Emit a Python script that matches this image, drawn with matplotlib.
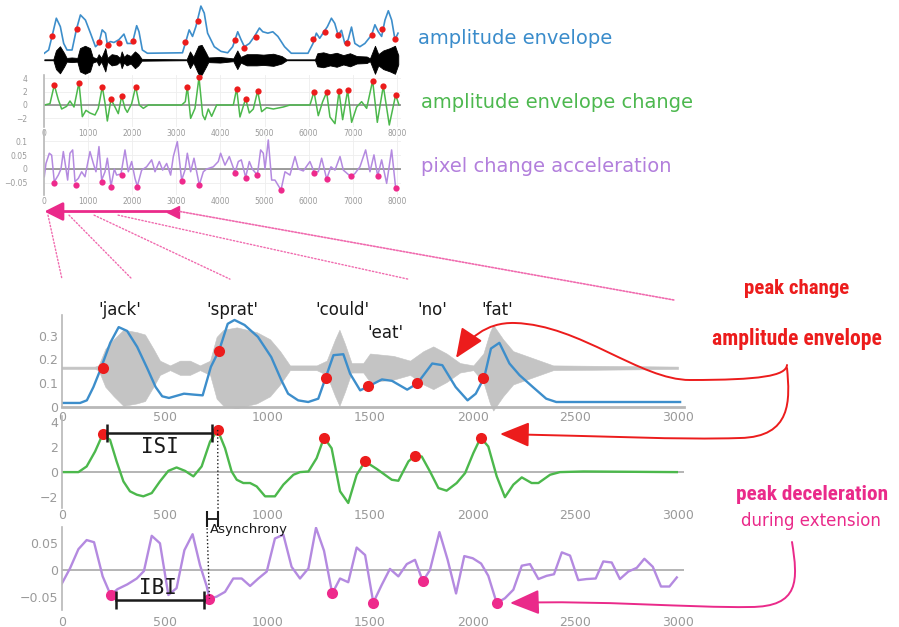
import matplotlib
matplotlib.use("Agg")
import matplotlib.pyplot as plt
from matplotlib import transforms
from matplotlib.path import Path
from matplotlib.patches import FancyArrowPatch, ConnectionPatch

# ---------- full recording, 0-8000 ms (small panels on top) ----------
# amplitude envelope (arbitrary units)
env_top_t = [0, 99, 175, 273, 364, 440, 516, 630, 729, 820,
             934, 1048, 1162, 1238, 1314, 1390, 1428, 1504, 1580, 1694,
             1808, 1884, 1998, 2097, 2150, 2226, 2340, 3137, 3213, 3289,
             3365, 3441, 3555, 3631, 3707, 3859, 4011, 4163, 4277, 4391,
             4467, 4543, 4657, 4771, 4884, 4960, 5075, 5188, 5303, 5454,
             5606, 5986, 6100, 6176, 6252, 6328, 6427, 6518, 6594, 6670,
             6746, 6822, 6898, 6974, 7050, 7164, 7278, 7430, 7506, 7582,
             7658, 7734, 7810, 7886, 7962, 8030]
env_top_v = [0, .07, .36, .75, .57, .21, .07, .07, .51, .82,
             .71, .43, .14, .21, .50, .43, .21, .25, .23, .29,
             .41, .21, .21, .59, .46, .07, 0, .01, .25, .50,
             .36, .57, 1.01, .86, .43, .14, .04, .01, .14, .46,
             .29, .14, .21, .36, .54, .46, .43, .46, .36, .14,
             0, 0, .21, .43, .32, .43, .57, .75, .64, .39,
             .49, .21, .29, .56, .21, .14, .21, .39, .61, .46,
             .36, .71, .91, .71, .29, .43]
env_top_dot_t = [167, 734, 1249, 1453, 1703, 2021, 3201, 3481, 4329, 4533,
                 4805, 6092, 6379, 6674, 6863, 7431, 7673, 7961]
env_top_dot_v = [.36, .52, .25, .18, .21, .26, .24, .68, .28, .12,
                 .35, .31, .46, .39, .21, .39, .52, .30]

# speech waveform drawn as its extent around a centre line
wave_top_center = -0.14
wave_top_t = [0, 205, 265, 356, 447, 507, 621, 750, 810, 924,
              1037, 1098, 1189, 1234, 1294, 1385, 1431, 1529, 1643, 1718,
              1756, 1809, 1869, 1960, 2058, 2134, 2210, 3232, 3307, 3383,
              3497, 3572, 3670, 3723, 3988, 4291, 4382, 4457, 4594, 4821,
              4972, 5199, 5388, 5502, 6145, 6198, 6334, 6485, 6636, 6788,
              6939, 7091, 7318, 7393, 7507, 7583, 7696, 7848, 7961, 8036]
wave_top_amp = [.01, .01, .20, .29, .15, .04, .05, .04, .25, .30,
                .25, .06, .03, .12, .04, .25, .04, .12, .10, .04,
                .18, .06, .12, .08, .18, .12, .02, .01, .18, .06,
                .30, .32, .15, .05, .06, .03, .20, .06, .12, .12,
                .11, .13, .08, .01, .01, .14, .16, .12, .15, .10,
                .14, .08, .07, .03, .30, .12, .20, .25, .30, .10]

# amplitude envelope change
chg_top_t = [0, 129, 227, 318, 394, 507, 583, 674, 787, 863,
             946, 1037, 1151, 1226, 1317, 1378, 1431, 1514, 1605, 1680,
             1756, 1832, 1885, 1983, 2074, 2157, 2248, 2361, 3118, 3201,
             3247, 3322, 3421, 3512, 3595, 3648, 3723, 3799, 3913, 4291,
             4367, 4442, 4571, 4654, 4745, 4843, 4934, 5048, 5199, 5426,
             5577, 6031, 6122, 6220, 6319, 6410, 6485, 6599, 6690, 6773,
             6886, 6977, 7091, 7204, 7318, 7454, 7560, 7696, 7832, 7976,
             8052]
chg_top_v = [0, 0.2, 3.0, 0.8, -0.6, -0.2, 0.6, -0.3, 3.35, -1.75,
             -0.8, -1.2, -1.5, -0.5, 2.75, 0.3, -2.4, 0.85, -0.3, -1.3,
             1.35, -0.5, -1.1, 0.2, 2.75, 0.0, -0.5, 0, 0, 0.5,
             2.75, -2.0, -0.5, 4.15, -1.5, -2.2, -0.6, -1.7, 0, 0,
             2.45, -1.8, 0.95, -1.2, -0.6, 2.1, -1.0, -0.4, -0.6, -0.3,
             0, 0, 2.0, -1.6, 0.5, 1.9, -1.8, -2.8, 2.05, -2.2,
             2.2, -2.6, -0.3, 0.5, -0.5, 3.65, -2.6, 2.85, -3.0, 1.5,
             0]
chg_top_dot_t = [227, 787, 1317, 1514, 1756, 2074, 3247, 3512, 4367, 4571,
                 4843, 6122, 6410, 6690, 6886, 7454, 7696, 7976]
chg_top_dot_v = [3.0, 3.35, 2.75, 0.85, 1.35, 2.75, 2.75, 4.15, 2.45, 0.95,
                 2.1, 2.0, 1.9, 2.05, 2.2, 3.65, 2.85, 1.5]

# pixel change acceleration
acc_top_t = [0, 38, 114, 167, 227, 318, 379, 432, 485, 530,
             583, 644, 697, 772, 848, 924, 1037, 1113, 1173, 1241,
             1302, 1378, 1431, 1514, 1590, 1642, 1741, 1832, 1907, 1983,
             2059, 2112, 2210, 2323, 2437, 2513, 2611, 2687, 2778, 2868,
             2929, 3020, 3118, 3194, 3247, 3322, 3398, 3519, 3610, 3686,
             3837, 3950, 4003, 4102, 4200, 4329, 4405, 4472, 4571, 4654,
             4722, 4836, 4911, 4972, 5010, 5085, 5161, 5237, 5373, 5464,
             5577, 5691, 5767, 5880, 6031, 6122, 6220, 6296, 6410, 6508,
             6599, 6713, 6788, 6962, 7053, 7166, 7295, 7393, 7484, 7568,
             7658, 7772, 7885, 7976]
acc_top_v = [-.028, .02, .057, .05, -.046, -.022, 0.0, .063, .008, -.04,
             .057, .069, -.046, -.034, -.01, -.028, .063, .02, -.01, .081,
             -.04, -.01, .039, -.062, 0.0, -.022, -.018, .069, -.01, .027,
             -.034, -.062, -.004, .008, .033, -.01, .027, -.004, .02, -.022,
             .045, .099, -.04, -.004, .057, -.01, .039, -.058, -.01, 0.0,
             .008, .027, .057, .014, .045, -.013, .027, .033, -.03, .027,
             0.0, -.022, .069, .057, 0.0, .105, -.04, -.04, -.076, -.01,
             -.022, .045, 0.0, -.007, .027, -.01, -.01, .039, -.036, .008,
             -.004, .045, -.004, -.028, -.016, .008, .069, -.01, .051, -.025,
             .033, -.052, .069, -.068]
acc_top_dot_t = [227, 719, 1317, 1514, 1756, 2112, 3118, 3519, 4329, 4571,
                 4836, 5373, 6122, 6410, 6962, 7568, 7976]
acc_top_dot_v = [-.05, -.058, -.046, -.064, -.022, -.064, -.042, -.058, -.013, -.033,
                 -.023, -.076, -.013, -.036, -.026, -.025, -.068]

# ---------- zoomed excerpt, 0-3000 ms ----------
env_t = [0, 88, 121, 153, 186, 235, 276, 317, 366, 415,
         456, 488, 521, 594, 643, 685, 725, 766, 807, 840,
         889, 954, 1019, 1068, 1101, 1150, 1199, 1248, 1281, 1322,
         1370, 1403, 1452, 1490, 1558, 1607, 1681, 1730, 1803, 1852,
         1917, 1975, 2015, 2056, 2089, 2130, 2179, 2228, 2293, 2358,
         2407, 2554, 3010]
env_v = [.017, .017, .028, .084, .155, .27, .336, .32, .253, .163,
         .084, .045, .038, .056, .052, .049, .169, .24, .35, .366,
         .345, .295, .21, .113, .056, .028, .021, .035, .116, .218,
         .222, .14, .07, .086, .116, .11, .073, .099, .183, .176,
         .084, .028, .056, .124, .246, .27, .183, .134, .084, .035,
         .021, .021, .021]
env_dot_t = [201, 763, 1285, 1488, 1730, 2050]
env_dot_v = [.162, .235, .12, .087, .099, .124]

wave_center = 0.165
wave_t = [0, 160, 178, 211, 252, 299, 364, 404, 445, 477,
          526, 575, 623, 672, 721, 753, 786, 851, 948, 1013,
          1062, 1110, 1240, 1289, 1330, 1351, 1378, 1410, 1467, 1500,
          1614, 1695, 1760, 1808, 1873, 1938, 2003, 2052, 2084, 2100,
          2148, 2197, 2262, 2327, 2392, 3000]
wave_amp = [.005, .005, .01, .08, .12, .16, .15, .14, .08, .03,
            .01, .03, .03, .01, .03, .13, .16, .17, .15, .12,
            .07, .01, .01, .03, .12, .16, .10, .02, .02, .06,
            .05, .03, .07, .09, .06, .02, .01, .06, .15, .18,
            .12, .07, .05, .03, .01, .005]

words = ["'jack'", "'sprat'", "'could'", "'eat'", "'no'", "'fat'"]
word_t = [282, 828, 1364, 1573, 1802, 2118]
word_y = [0.408, 0.408, 0.408, 0.311, 0.408, 0.408]

chg_t = [0, 80, 120, 161, 198, 234, 266, 299, 331, 364,
         396, 437, 477, 518, 558, 599, 640, 680, 721, 758,
         794, 826, 851, 883, 916, 948, 989, 1037, 1078, 1127,
         1159, 1200, 1240, 1276, 1313, 1354, 1394, 1435, 1476, 1533,
         1606, 1638, 1687, 1719, 1752, 1792, 1833, 1873, 1922, 1963,
         2003, 2039, 2076, 2117, 2157, 2198, 2239, 2287, 2320, 2377,
         2425, 2539, 2994]
chg_v = [0, 0, .45, 1.64, 3.0, 2.57, .85, -.74, -1.53, -1.8,
         -1.93, -1.67, -.74, .1, .37, .1, -.34, .45, 2.43, 3.36,
         1.9, .05, -.61, -.87, -.87, -1.14, -1.93, -1.93, -1.0, -.21,
         0, .05, 1.11, 2.75, 1.9, -1.53, -2.46, -.21, .85, .25,
         -.61, -.69, .85, 1.32, 1.24, .05, -1.27, -1.48, -.87, -.08,
         1.51, 2.75, 2.04, -.34, -2.0, -1.0, -.42, -.87, -.87, -.21,
         0, .05, 0]
chg_dot_t = [198, 758, 1276, 1476, 1719, 2039]
chg_dot_v = [3.0, 3.36, 2.75, 0.85, 1.32, 2.75]

acc_t = [0, 39, 80, 120, 156, 198, 237, 270, 318, 364,
         399, 437, 477, 502, 518, 558, 596, 636, 672, 705,
         718, 753, 794, 834, 875, 916, 956, 997, 1037, 1078,
         1118, 1159, 1200, 1237, 1276, 1316, 1354, 1394, 1435, 1476,
         1516, 1557, 1597, 1638, 1679, 1719, 1757, 1792, 1838, 1878,
         1919, 1959, 2000, 2041, 2076, 2117, 2157, 2198, 2239, 2279,
         2320, 2360, 2396, 2434, 2474, 2514, 2555, 2599, 2636, 2677,
         2717, 2758, 2799, 2836, 2877, 2917, 2958, 2994]
acc_v = [-.025, .003, .039, .056, .052, -.012, -.047, -.036, -.027, -.016,
         -.002, .064, .05, -.009, -.047, -.034, .037, .067, .009, -.031,
         -.054, -.05, -.041, -.016, -.016, -.03, -.016, -.003, .059, .066,
         .006, -.016, .003, .079, .036, -.044, -.016, -.023, .042, .028,
         -.061, -.028, .002, -.012, .011, .019, -.021, 0, .071, .019,
         -.044, .026, .022, .012, -.011, -.062, -.053, -.037, .008, .011,
         -.017, -.011, -.008, .033, .027, -.019, -.017, -.016, .016, .014,
         -.017, -.003, .004, .021, .006, -.031, -.031, -.014]
acc_dot_t = [237, 718, 1316, 1516, 1757, 2117]
acc_dot_v = [-.047, -.054, -.044, -.061, -.021, -.062]

top_xticks = [0, 1000, 2000, 3000, 4000, 5000, 6000, 7000, 8000]
bot_xticks = [0, 500, 1000, 1500, 2000, 2500, 3000]

# ---------- figure ----------
W, H = 899, 627
fig = plt.figure(figsize=(W / 100, H / 100), dpi=100)
PX = transforms.Affine2D().scale(1 / W, -1 / H).translate(0, 1) + fig.transFigure

BLUE = "#3d8ecb"
GREEN = "#4cb84c"
PURPLE = "#b48ae0"
RED = "#ec1c1c"
PINK = "#ea2a8a"
TICK = "#9a9a9a"
AXIS = "#b8b8b8"


def box(x0, x1, y0, y1):
    return [x0 / W, 1 - y1 / H, (x1 - x0) / W, (y1 - y0) / H]


def style(ax, fs, xpad, ypad):
    for s in ["top", "right", "bottom"]:
        ax.spines[s].set_visible(False)
    ax.spines["left"].set_color(AXIS)
    ax.spines["left"].set_linewidth(1.2)
    ax.tick_params(length=0, labelsize=fs, labelcolor=TICK)
    ax.tick_params(axis="x", pad=xpad)
    ax.tick_params(axis="y", pad=ypad)
    ax.patch.set_alpha(0)


def labels(vals):
    return [str(v).replace("-", "\u2212") for v in vals]


# panel A: envelope + waveform (no axes)
axA = fig.add_axes(box(44.3, 401.1, 0, 78))
axA.fill_between(wave_top_t, [wave_top_center - a for a in wave_top_amp],
                 [wave_top_center + a for a in wave_top_amp], color="black", lw=0.6)
axA.plot(env_top_t, env_top_v, color=BLUE, lw=1.2)
axA.plot(env_top_dot_t, env_top_dot_v, "o", color=RED, ms=4.5, mec="none")
axA.set_xlim(0, 8100)
axA.set_ylim(-0.53, 1.14)
axA.axis("off")

# panel B: envelope change
axB = fig.add_axes(box(44.3, 401.1, 75, 127))
style(axB, 5.5, 1.8, 12)
axB.grid(color="#eeeeee", lw=0.6)
axB.axhline(0, color="#8c8c8c", lw=1.2)
axB.plot(chg_top_t, chg_top_v, color=GREEN, lw=1.1)
axB.plot(chg_top_dot_t, chg_top_dot_v, "o", color=RED, ms=4.5, mec="none")
axB.set_xlim(0, 8100)
axB.set_ylim(-3.3, 4.5)
axB.set_xticks(top_xticks, labels(top_xticks))
axB.set_yticks([-2, 0, 2, 4], labels([-2, 0, 2, 4]))

# panel C: acceleration
axC = fig.add_axes(box(44.3, 401.1, 130, 195))
style(axC, 5.5, 1.8, 12)
axC.grid(color="#eeeeee", lw=0.6)
axC.axhline(0, color="#8c8c8c", lw=1.2)
axC.plot(acc_top_t, acc_top_v, color=PURPLE, lw=1.1)
axC.plot(acc_top_dot_t, acc_top_dot_v, "o", color="#ee2a8c", ms=4.5, mec="none")
axC.set_xlim(0, 8100)
axC.set_ylim(-0.094, 0.141)
axC.set_xticks(top_xticks, labels(top_xticks))
axC.set_yticks([-0.05, 0, 0.05, 0.1], labels([-0.05, 0, 0.05, 0.1]))

fig.text(418, 38, "amplitude envelope", transform=PX, color="#3a8ccb",
         fontsize=14, va="center")
fig.text(421, 102, "amplitude envelope change", transform=PX, color="#4db84f",
         fontsize=14, va="center")
fig.text(421, 166, "pixel change acceleration", transform=PX, color="#b27fdc",
         fontsize=14, va="center")

# panel D: zoomed envelope
axD = fig.add_axes(box(62, 684.2, 315, 407))
style(axD, 9, 3, 3)
axD.spines["bottom"].set_visible(True)
axD.spines["bottom"].set_color(AXIS)
axD.spines["bottom"].set_linewidth(2)
axD.fill_between(wave_t, [wave_center - a for a in wave_amp],
                 [wave_center + a for a in wave_amp], color="#c4c4c4", lw=0.4,
                 clip_on=False)
axD.plot(env_t, env_v, color=BLUE, lw=1.7)
axD.plot(env_dot_t, env_dot_v, "o", color=RED, ms=8, mec="none")
axD.set_xlim(0, 3030)
axD.set_ylim(0, 0.387)
axD.set_xticks(bot_xticks, labels(bot_xticks))
axD.set_yticks([0, 0.1, 0.2, 0.3], labels([0, 0.1, 0.2, 0.3]))
for w, t, y in zip(words, word_t, word_y):
    axD.text(t, y, w, fontsize=12, color="#1a1a1a", ha="center", va="center",
             clip_on=False)

# panel E: zoomed envelope change
axE = fig.add_axes(box(62, 684.2, 416, 508))
style(axE, 9, 1, 3)
axE.axhline(0, color="#a8a8a8", lw=1.2)
axE.plot(chg_t, chg_v, color=GREEN, lw=1.7)
axE.plot(chg_dot_t, chg_dot_v, "o", color=RED, ms=8, mec="none")
axE.set_xlim(0, 3030)
axE.set_ylim(-2.86, 4.47)
axE.set_xticks(bot_xticks, labels(bot_xticks))
axE.set_yticks([-2, 0, 2, 4], labels([-2, 0, 2, 4]))

# ISI bracket
axE.plot([218, 729], [3.1, 3.1], color="#1a1a1a", lw=1.8, marker="|", ms=13,
         mew=1.8)
axE.text(477, 2.0, "ISI", fontsize=15, family="DejaVu Sans Mono",
         ha="center", va="center", color="#1a1a1a")
# asynchrony marker
axE.plot([758, 760], [3.36, -3.3], color="#1a1a1a", ls=":", lw=1, clip_on=False)
axE.plot([706, 760], [-3.75, -3.75], color="#1a1a1a", lw=1.3, marker="|",
         ms=12, mew=1.5, clip_on=False)

# panel F: zoomed acceleration
axF = fig.add_axes(box(62, 684.2, 527, 610))
style(axF, 9, 4, 3)
axF.axhline(0, color="#a8a8a8", lw=1.2)
axF.plot(acc_t, acc_v, color=PURPLE, lw=1.7)
axF.plot(acc_dot_t, acc_dot_v, "o", color="#ee2a8c", ms=8, mec="none")
axF.set_xlim(0, 3030)
axF.set_ylim(-0.075, 0.0805)
axF.set_xticks(bot_xticks, labels(bot_xticks))
axF.set_yticks([-0.05, 0, 0.05], labels([-0.05, 0, 0.05]))
axF.plot([706, 718], [0.085, -0.054], color="#1a1a1a", ls=":", lw=1,
         clip_on=False)
axF.text(721, 0.075, "Asynchrony", fontsize=9.5, color="#1a1a1a",
         ha="left", va="center")

# IBI bracket
axF.plot([263, 692], [-0.056, -0.056], color="#1a1a1a", lw=1.8, marker="|",
         ms=13, mew=1.8)
axF.text(468, -0.034, "IBI", fontsize=15, family="DejaVu Sans Mono",
         ha="center", va="center", color="#1a1a1a")

# zoom indicator on the top panels
xf = axC.get_xaxis_transform()
axC.annotate("", xy=(0, -0.254), xytext=(3000, -0.254), xycoords=xf,
             textcoords=xf, annotation_clip=False,
             arrowprops=dict(arrowstyle="-|>,head_length=0.8,head_width=0.4",
                             color=PINK, lw=2, mutation_scale=14, shrinkA=0,
                             shrinkB=0))
axC.plot([2930], [-0.254], marker="<", ms=9, color=PINK, transform=xf,
         clip_on=False)
link_from = [84, 561, 1130, 1675]
link_to = [0, 341, 818, 1685]
for a, b in zip(link_from, link_to):
    fig.add_artist(ConnectionPatch(xyA=(a, -0.31), coordsA=xf,
                                   xyB=(b, 1.39), coordsB=axD.get_xaxis_transform(),
                                   color="#f06aae", lw=1, ls=(0, (1, 1.5))))
fig.add_artist(ConnectionPatch(xyA=(3080, -0.254), coordsA=xf,
                               xyB=(2980, 1.163), coordsB=axD.get_xaxis_transform(),
                               color="#f06aae", lw=1.2, ls=(0, (1, 1))))

# side annotations (bold, narrow lettering; shrunk to the reference width)
narrow = ["Roboto Condensed", "Liberation Sans Narrow", "Lato"]
renderer = fig.canvas.get_renderer()


def fit_text(x, y, s, width, color, size, **kw):
    t = fig.text(x, y, s, transform=PX, color=color, fontsize=size,
                 ha="center", va="center", **kw)
    w = t.get_window_extent(renderer).width
    if w > width:
        t.set_fontsize(size * width / w)
    return t


fit_text(797, 289, "peak change", 106, RED, 19, family=narrow,
         weight="bold", stretch="condensed")
fit_text(797, 339, "amplitude envelope", 170, RED, 19, family=narrow,
         weight="bold", stretch="condensed")
fit_text(812, 495, "peak deceleration", 152, PINK, 19, family=narrow,
         weight="bold", stretch="condensed")
fit_text(811, 521, "during extension", 163, PINK, 12)

C3 = Path.CURVE4
red_up = Path([(787, 365), (786, 376), (760, 380), (690, 380),
               (640, 380), (580, 325), (515, 323),
               (485, 322), (468, 340), (456, 358)],
              [Path.MOVETO, C3, C3, C3, C3, C3, C3, C3, C3, C3])
red_low = Path([(787, 368), (790, 400), (792, 437), (740, 438),
                (680, 440), (600, 436), (500, 434)],
               [Path.MOVETO, C3, C3, C3, C3, C3, C3])
pink_low = Path([(792, 542), (798, 580), (800, 607), (750, 607),
                 (690, 608), (600, 600), (510, 603)],
                [Path.MOVETO, C3, C3, C3, C3, C3, C3])
head = "-|>,head_length=1.3,head_width=0.55"
for p, c in [(red_up, RED), (red_low, RED), (pink_low, PINK)]:
    fig.add_artist(FancyArrowPatch(path=p, transform=PX, arrowstyle=head,
                                   mutation_scale=14, color=c, lw=1.4))

fig.savefig("out.png", dpi=100)
